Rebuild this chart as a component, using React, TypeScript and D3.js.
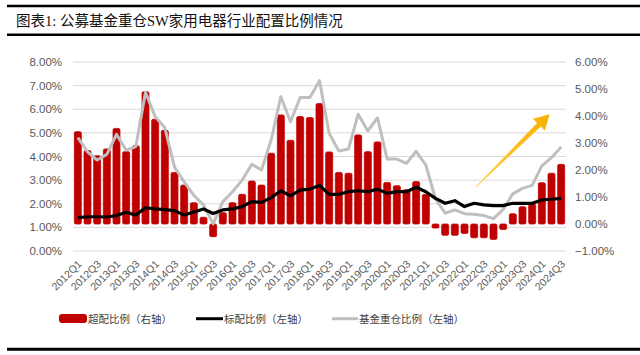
import React from "react";
import * as d3 from "d3";

const quarters = [
  "2012Q1","2012Q2","2012Q3","2012Q4","2013Q1","2013Q2","2013Q3","2013Q4",
  "2014Q1","2014Q2","2014Q3","2014Q4","2015Q1","2015Q2","2015Q3","2015Q4",
  "2016Q1","2016Q2","2016Q3","2016Q4","2017Q1","2017Q2","2017Q3","2017Q4",
  "2018Q1","2018Q2","2018Q3","2018Q4","2019Q1","2019Q2","2019Q3","2019Q4",
  "2020Q1","2020Q2","2020Q3","2020Q4","2021Q1","2021Q2","2021Q3","2021Q4",
  "2022Q1","2022Q2","2022Q3","2022Q4","2023Q1","2023Q2","2023Q3","2023Q4",
  "2024Q1","2024Q2","2024Q3"
];

// 超配比例 (right axis, %)
const overweight = [
  3.42, 2.72, 2.53, 2.78, 3.54, 2.68, 2.90, 4.90, 3.88, 3.47, 1.91, 1.44, 0.79,
  0.25, -0.47, 0.42, 0.79, 1.10, 1.59, 1.44, 2.62, 4.04, 3.10, 3.98, 3.94, 4.46,
  2.67, 1.91, 1.88, 3.30, 2.68, 3.04, 1.54, 1.42, 1.27, 1.57, 1.10,
  -0.15, -0.42, -0.42, -0.35, -0.51, -0.51, -0.57, -0.20, 0.38, 0.64, 0.74, 1.53, 1.88, 2.21
];

// 标配比例 (left axis, %)
const standard = [
  1.41, 1.45, 1.45, 1.44, 1.50, 1.64, 1.52, 1.83, 1.78, 1.75, 1.71, 1.52, 1.65,
  1.78, 1.59, 1.74, 1.78, 1.88, 2.09, 2.06, 2.26, 2.55, 2.33, 2.58, 2.62, 2.77,
  2.40, 2.40, 2.51, 2.55, 2.51, 2.62, 2.44, 2.51, 2.51, 2.70, 2.51,
  2.23, 2.02, 2.13, 1.88, 2.02, 1.95, 1.92, 1.92, 2.02, 2.02, 2.02, 2.16, 2.19, 2.23
];

// 基金重仓比例 (left axis, %)
const fundHeavy = [
  4.80, 4.20, 3.85, 4.09, 4.94, 4.27, 4.42, 6.72, 5.69, 5.22, 3.55, 2.93, 2.35,
  1.95, 1.15, 2.09, 2.51, 3.00, 3.67, 3.43, 4.70, 6.53, 5.47, 6.50, 6.50, 7.21,
  4.98, 4.23, 4.32, 5.79, 5.08, 5.64, 3.89, 3.89, 3.71, 4.22, 3.64,
  2.20, 1.60, 1.74, 1.58, 1.56, 1.50, 1.37, 1.76, 2.42, 2.65, 2.78, 3.60, 3.95, 4.40
];

const leftTicks = [0, 1, 2, 3, 4, 5, 6, 7, 8];
const rightTicks = [-1, 0, 1, 2, 3, 4, 5, 6];

// annotation arrow in data coordinates (quarter index, left-axis %)
const arrowFrom = { i: 41.2, v: 2.72 };
const arrowTo = { i: 48.8, v: 5.79 };

const title = "图表1: 公募基金重仓SW家用电器行业配置比例情况";
const legendItems = ["超配比例（右轴）", "标配比例（左轴）", "基金重仓比例（左轴）"];

export default function App() {
  const W = 640, H = 355;
  const L = 73, R = 566, T = 62, B = 251;

  const x = d3.scaleBand<string>().domain(quarters).range([L, R]).paddingInner(0.28).paddingOuter(0.14);
  const bw = x.bandwidth();
  const cx = (q: string) => (x(q) as number) + bw / 2;
  const xi = d3.scaleLinear().domain([0, quarters.length - 1]).range([cx(quarters[0]), cx(quarters[quarters.length - 1])]);
  const yL = d3.scaleLinear().domain([0, 8]).range([B, T]);
  const yR = d3.scaleLinear().domain([-1, 6]).range([B, T]);

  const line = d3.line<number>().x((_, i) => cx(quarters[i])).y((d) => yL(d));

  const fmt = (v: number) => d3.format(".2f")(v) + "%";

  // arrow polygon
  const ax0 = xi(arrowFrom.i), ay0 = yL(arrowFrom.v);
  const ax1 = xi(arrowTo.i), ay1 = yL(arrowTo.v);
  const len = Math.hypot(ax1 - ax0, ay1 - ay0);
  const ux = (ax1 - ax0) / len, uy = (ay1 - ay0) / len;
  const nx = -uy, ny = ux;
  const headLen = 15, headHalf = 8.5, shaftHalf = 2.6, tailHalf = 0.5;
  const hx = ax1 - ux * headLen, hy = ay1 - uy * headLen;
  const pts: [number, number][] = [
    [ax0 + nx * tailHalf, ay0 + ny * tailHalf],
    [hx + nx * shaftHalf, hy + ny * shaftHalf],
    [hx + nx * headHalf, hy + ny * headHalf],
    [ax1, ay1],
    [hx - nx * headHalf, hy - ny * headHalf],
    [hx - nx * shaftHalf, hy - ny * shaftHalf],
    [ax0 - nx * tailHalf, ay0 - ny * tailHalf],
  ];

  const labelFont = "'Liberation Sans', Arial, 'Noto Sans CJK SC', sans-serif";
  const cjkFont = "'Noto Sans CJK SC', 'Liberation Sans', sans-serif";
  const axisColor = "#595959";

  return (
    <svg width={W} height={H} style={{ position: "absolute", left: 0, top: 0, background: "#fff" }}>
      <defs>
        <linearGradient id="arrowGrad" gradientUnits="userSpaceOnUse" x1={ax0} y1={ay0} x2={ax1} y2={ay1}>
          <stop offset="0%" stopColor="#FFD24D" />
          <stop offset="100%" stopColor="#F7B000" />
        </linearGradient>
      </defs>

      {/* title block */}
      <line x1={7} x2={640} y1={6} y2={6} stroke="#000" strokeWidth={2.6} />
      <text x={16} y={26} fontSize={14.5} fontFamily="'Liberation Serif', 'Noto Sans CJK SC', serif" fill="#111">{title}</text>
      <line x1={7} x2={640} y1={34.7} y2={34.7} stroke="#000" strokeWidth={2.6} />

      {/* gridlines */}
      {leftTicks.map((t) => (
        <line key={"g" + t} x1={L} x2={R} y1={yL(t)} y2={yL(t)} stroke="#d9d9d9" strokeWidth={1} />
      ))}

      {/* left axis labels */}
      {leftTicks.map((t) => (
        <text key={"l" + t} x={62} y={yL(t)} dy="0.35em" textAnchor="end" fontSize={11.5} fontFamily={labelFont} fill={axisColor}>{fmt(t)}</text>
      ))}
      {/* right axis labels */}
      {rightTicks.map((t) => (
        <text key={"r" + t} x={575} y={yR(t)} dy="0.35em" textAnchor="start" fontSize={11.5} fontFamily={labelFont} fill={axisColor}>{fmt(t)}</text>
      ))}

      {/* bars */}
      {overweight.map((v, i) => {
        const q = quarters[i];
        const y0 = yR(0), y1 = yR(v);
        const top = Math.min(y0, y1);
        const h = Math.max(Math.abs(y1 - y0), 1);
        return (
          <rect key={"b" + q} x={x(q)} y={top} width={bw} height={h} rx={1.5} fill="#C00000" stroke="#C00000" strokeWidth={0.8} />
        );
      })}

      {/* lines */}
      <path d={line(fundHeavy) || ""} fill="none" stroke="#BFBFBF" strokeWidth={3} strokeLinejoin="round" />
      <path d={line(standard) || ""} fill="none" stroke="#000" strokeWidth={3.2} strokeLinejoin="round" />

      {/* annotation arrow */}
      <polygon points={pts.map((p) => p.join(",")).join(" ")} fill="url(#arrowGrad)" />

      {/* x labels */}
      {quarters.filter((_, i) => i % 2 === 0).map((q) => (
        <text key={"x" + q} transform={`translate(${cx(q) + 2},${262}) rotate(-45)`} dy="0.35em" textAnchor="end" fontSize={10.5} fontFamily={labelFont} fill={axisColor}>{q}</text>
      ))}

      {/* legend */}
      <rect x={59} y={314} width={28} height={9} rx={3} fill="#C00000" />
      <text x={88} y={322.5} fontSize={10.5} fontFamily={cjkFont} fill="#404040">{legendItems[0]}</text>
      <line x1={196} x2={223} y1={318.7} y2={318.7} stroke="#000" strokeWidth={3} />
      <text x={224} y={322.5} fontSize={10.5} fontFamily={cjkFont} fill="#404040">{legendItems[1]}</text>
      <line x1={332} x2={358} y1={318.7} y2={318.7} stroke="#BFBFBF" strokeWidth={3} />
      <text x={359} y={322.5} fontSize={10.5} fontFamily={cjkFont} fill="#404040">{legendItems[2]}</text>

      <line x1={7} x2={640} y1={349.3} y2={349.3} stroke="#000" strokeWidth={3} />
    </svg>
  );
}
